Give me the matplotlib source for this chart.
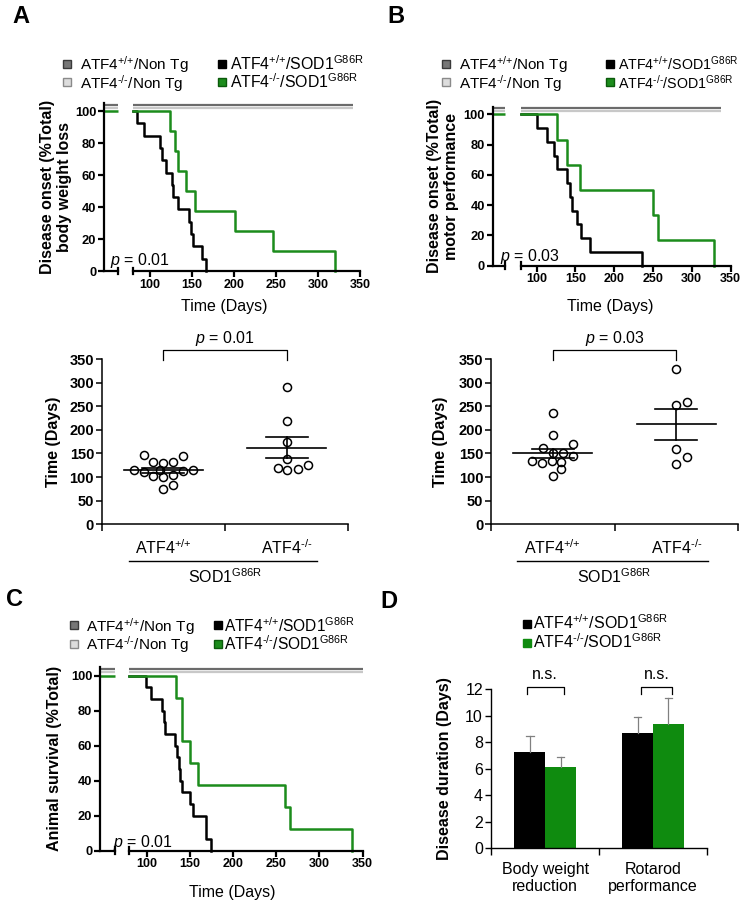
import matplotlib.pyplot as plt
from matplotlib.lines import Line2D
import numpy as np

plt.rcParams['font.family'] = ['Liberation Sans', 'DejaVu Sans']
plt.rcParams['mathtext.fontset'] = 'custom'
plt.rcParams['mathtext.rm'] = 'Liberation Sans'
plt.rcParams['mathtext.it'] = 'Liberation Sans:italic'
plt.rcParams['mathtext.bf'] = 'Liberation Sans:bold'

# ---------------- data ----------------
# Kaplan-Meier steps (day of event, % still without onset / alive)
a_wt_days = [85, 93, 112, 115, 119, 126, 128, 133, 147, 149, 151, 162, 167]
a_wt_pct = [92.3, 84.6, 76.9, 69.2, 61.5, 53.8, 46.2, 38.5, 30.8, 23.1, 15.4, 7.7, 0]
a_ko_days = [124, 130, 134, 143, 154, 201, 247, 320]
a_ko_pct = [87.5, 75, 62.5, 50, 37.5, 25, 12.5, 0]

b_wt_days = [100, 114, 123, 126, 139, 143, 146, 152, 157, 169, 236]
b_wt_pct = [90.9, 81.8, 72.7, 63.6, 54.5, 45.5, 36.4, 27.3, 18.2, 9.1, 0]
b_ko_days = [127, 139, 156, 250, 256, 329]
b_ko_pct = [83.3, 66.7, 50, 33.3, 16.7, 0]

c_wt_days = [99, 105, 118, 120, 121, 133, 135, 137, 139, 141, 150, 154, 169, 175]
c_wt_pct = [93.3, 86.7, 80, 73.3, 66.7, 60, 53.3, 46.7, 40, 33.3, 26.7, 20, 6.7, 0]
c_ko_days = [134, 141, 150, 160, 260, 266, 338]
c_ko_pct = [87.5, 62.5, 50, 37.5, 25, 12.5, 0]

ntg_last_day = [342, 338, 350]   # A, B, C

# onset per animal (days) and horizontal spread of the dots
a_wt_onset = [147, 132, 130, 131, 145, 115, 110, 103, 116, 100, 104, 113, 115, 75, 83]
a_wt_spread = [-0.16, -0.08, 0, 0.08, 0.16, -0.24, -0.16, -0.08, -0.03, 0, 0.08, 0.16, 0.24, 0, 0.08]
a_ko_onset = [290, 219, 175, 138, 119, 115, 117, 126]
a_ko_spread = [0, 0, 0, 0, -0.07, 0, 0.09, 0.17]

b_wt_onset = [236, 189, 162, 169, 150, 152, 145, 133, 130, 133, 132, 117, 102]
b_wt_spread = [0, 0, -0.08, 0.16, 0, 0.08, 0.16, -0.17, -0.09, -0.01, 0.07, 0.07, 0]
b_ko_onset = [329, 253, 258, 159, 127, 142]
b_ko_spread = [0, 0, 0.085, 0, 0, 0.085]

# D: disease duration
d_groups = ['Body weight\nreduction', 'Rotarod\nperformance']
d_wt_mean = [7.3, 8.7]
d_wt_sem = [1.15, 1.2]
d_ko_mean = [6.1, 9.4]
d_ko_sem = [0.8, 1.95]

WT = r'ATF4$^{\text{+/+}}$'
KO = r'ATF4$^{\text{-/-}}$'
SOD = r'SOD1$^{\text{G86R}}$'
lab_wt_ntg = WT + '/Non Tg'
lab_ko_ntg = KO + '/Non Tg'
lab_wt_sod = WT + '/' + SOD
lab_ko_sod = KO + '/' + SOD

GREEN = '#1c8c1c'
BAR_GREEN = '#0f8b0f'
DGREY = '#6b6b6b'
LGREY = '#c8c8c8'

W, H = 744, 907
fig = plt.figure(figsize=(W / 100, H / 100), dpi=100)


def fx(x):
    return x / W


def fy(y):
    return 1 - y / H


def rect(l, t, r, b):
    return [l / W, 1 - b / H, (r - l) / W, (b - t) / H]


def legend_entry(xm, xt, ym, yb, face, edge, label, ms=6, size=11):
    fig.add_artist(Line2D([fx(xm)], [fy(ym)], marker='s', ms=ms, mfc=face, mec=edge,
                          mew=1.0, ls='none', transform=fig.transFigure))
    fig.text(fx(xt), fy(yb), label, fontsize=size, ha='left', va='baseline')


def km_panel(x_axis, x_seg, x_main, x_end, y100, y0, wt_d, wt_p, ko_d, ko_p, ntg_end,
             ylabel, ylab_x, ptext, p_x, p_y, xlab_x, xlab_y):
    per = (y0 - y100) / 100.0
    ytop = y0 - 105 * per
    axl = fig.add_axes(rect(x_axis, ytop, x_seg, y0))
    axm = fig.add_axes(rect(x_main, ytop, x_end, y0))
    for ax in (axl, axm):
        ax.set_ylim(0, 105)
        ax.patch.set_alpha(0)
        ax.spines[['top', 'right']].set_visible(False)
        ax.spines['bottom'].set_linewidth(1.6)
        ax.spines['left'].set_linewidth(1.6)
    axl.set_xlim(0, 1)
    axm.set_xlim(80, 350)
    axm.spines['left'].set_visible(False)
    axm.set_yticks([])
    axl.set_xticks([])
    axl.set_yticks([0, 20, 40, 60, 80, 100], labels=['0', '20', '40', '60', '80', '100'],
                   fontweight='bold', fontsize=9.3)
    axl.tick_params(axis='y', length=4, width=1.6, pad=1.5)
    xt = [100, 150, 200, 250, 300, 350]
    axm.set_xticks(xt, labels=[str(v) for v in xt], fontweight='bold', fontsize=9)
    axm.tick_params(axis='x', length=4, width=1.6, pad=1.5)

    for ax, x0, x1 in ((axl, 0, 1), (axm, 80, ntg_end)):
        ax.plot([x0, x1], [104, 104], color=DGREY, lw=1.6, clip_on=False, solid_capstyle='butt')
        ax.plot([x0, x1], [102, 102], color=LGREY, lw=1.6, clip_on=False, solid_capstyle='butt')
    axl.plot([0, 1], [100, 100], color=GREEN, lw=1.8, clip_on=False, solid_capstyle='butt')
    axm.plot([80] + wt_d, [100] + wt_p, drawstyle='steps-post', color='k', lw=1.8, clip_on=False)
    axm.plot([80] + ko_d, [100] + ko_p, drawstyle='steps-post', color=GREEN, lw=1.8, clip_on=False)

    for xb in (x_seg, x_main):
        fig.add_artist(Line2D([fx(xb)] * 2, [fy(y0 - 3.5), fy(y0 + 3.5)], color='k', lw=1.6))

    fig.text(fx(ylab_x), fy((ytop + y0) / 2), ylabel, rotation=90, ha='center', va='center',
             fontsize=11.5, fontweight='bold', linespacing=1.1, multialignment='center')
    fig.text(fx(p_x), fy(p_y), ptext, fontsize=11.5, ha='left', va='baseline')
    fig.text(fx(xlab_x), fy(xlab_y), 'Time (Days)', fontsize=11.5, ha='center', va='center')


def dot_panel(x_l, x_r, y0, ytop, wt_v, wt_s, ko_v, ko_s, ptext, ylab_x, line_x):
    ax = fig.add_axes(rect(x_l, ytop, x_r, y0))
    ax.set_xlim(0, 2)
    ax.set_ylim(0, 350)
    ax.patch.set_alpha(0)
    ax.spines[['top', 'right']].set_visible(False)
    ax.spines[['left', 'bottom']].set_linewidth(1.1)
    yt = list(range(0, 351, 50))
    ax.set_yticks(yt, labels=[str(v) for v in yt], fontweight='bold', fontsize=10.5)
    ax.tick_params(axis='y', length=4, width=1.1, pad=1.5)
    ax.set_xticks([0, 1, 2], labels=['', '', ''])
    ax.tick_params(axis='x', length=5, width=1.1)

    for k, (vals, spread) in enumerate(((wt_v, wt_s), (ko_v, ko_s))):
        xc = 0.5 + k
        ax.plot(xc + np.array(spread), vals, 'o', mfc='none', mec='k', ms=5.8, mew=1.1,
                zorder=3, clip_on=False)
        m = np.mean(vals)
        s = np.std(vals, ddof=1) / np.sqrt(len(vals))
        ax.plot([xc - 0.32, xc + 0.32], [m, m], color='k', lw=1.2, zorder=4)
        ax.plot([xc - 0.17, xc + 0.17], [m + s, m + s], color='k', lw=1.2, zorder=4)
        ax.plot([xc - 0.17, xc + 0.17], [m - s, m - s], color='k', lw=1.2, zorder=4)
        ax.plot([xc, xc], [m - s, m + s], color='k', lw=1.2, zorder=4)

    ax.plot([0.5, 0.5, 1.5, 1.5], [348, 368, 368, 348], color='k', lw=0.9, clip_on=False)
    ax.text(1.0, 373, ptext, ha='center', va='bottom', fontsize=11.5)

    ax.text(0.5, -62, WT, ha='center', va='baseline', fontsize=11.5)
    ax.text(1.5, -62, KO, ha='center', va='baseline', fontsize=11.5)
    ax.plot(line_x, [-77, -77], color='k', lw=1.0, clip_on=False)
    ax.text(1.0, -125, SOD, ha='center', va='baseline', fontsize=11.5)
    fig.text(fx(ylab_x), fy((ytop + y0) / 2), 'Time (Days)', rotation=90, ha='center',
             va='center', fontsize=11.5, fontweight='bold')


# ---------------- panel letters ----------------
for letter, x, y in (('A', 12, 5), ('B', 387, 5), ('C', 6, 588), ('D', 380, 590)):
    fig.text(fx(x), fy(y), letter, fontsize=17, fontweight='bold', ha='left', va='top')

# ---------------- legends ----------------
for (c1m, c1t, c2m, c2t, r1, r2, s2) in ((67, 80, 222, 230, 63.5, 82, 11.4),
                                          (446, 459, 610, 618, 63.5, 82, 10.3),
                                          (74, 86, 218, 224, 625, 643.5, 11.2)):
    legend_entry(c1m, c1t, r1, r1 + 6.5, '#777777', '#3a3a3a', lab_wt_ntg)
    legend_entry(c1m, c1t, r2, r2 + 6.5, '#dddddd', '#8a8a8a', lab_ko_ntg)
    legend_entry(c2m, c2t, r1, r1 + 6.5, 'black', 'black', lab_wt_sod, size=s2)
    legend_entry(c2m, c2t, r2, r2 + 6.5, GREEN, '#0b5a0b', lab_ko_sod, size=s2)

# ---------------- A, B, C survival-type curves ----------------
km_panel(104, 118, 133, 360, 111, 271, a_wt_days, a_wt_pct, a_ko_days, a_ko_pct, ntg_last_day[0],
         'Disease onset (%Total)\nbody weight loss', 56, r'$p$ = 0.01', 110, 265.5, 224, 307)
km_panel(492.7, 505.3, 521, 730.5, 114.3, 265.7, b_wt_days, b_wt_pct, b_ko_days, b_ko_pct,
         ntg_last_day[1], 'Disease onset (%Total)\nmotor performance', 443, r'$p$ = 0.03',
         500, 261.5, 610, 307)
km_panel(100, 115, 129.3, 362.7, 675.7, 850.7, c_wt_days, c_wt_pct, c_ko_days, c_ko_pct,
         ntg_last_day[2], 'Animal survival (%Total)', 54, r'$p$ = 0.01', 113, 846.5, 232, 893)

# ---------------- A, B dot plots ----------------
dot_panel(101.7, 348.3, 524.3, 359, a_wt_onset, a_wt_spread, a_ko_onset, a_ko_spread,
          r'$p$ = 0.01', 53, [0.22, 1.75])
dot_panel(491, 738, 524.3, 359, b_wt_onset, b_wt_spread, b_ko_onset, b_ko_spread,
          r'$p$ = 0.03', 440, [0.21, 1.76])

# ---------------- D bar chart ----------------
axd = fig.add_axes(rect(491.3, 689.3, 707, 848.3))
axd.set_xlim(0, 2)
axd.set_ylim(0, 12)
axd.spines[['top', 'right']].set_visible(False)
axd.spines[['left', 'bottom']].set_linewidth(1.0)
xg = np.array([0.5, 1.5])
bw = 0.285
axd.bar(xg - bw / 2, d_wt_mean, width=bw, color='black', zorder=2)
axd.bar(xg + bw / 2, d_ko_mean, width=bw, color=BAR_GREEN, zorder=2)
for xs, means, sems in ((xg - bw / 2, d_wt_mean, d_wt_sem), (xg + bw / 2, d_ko_mean, d_ko_sem)):
    for x, m, s in zip(xs, means, sems):
        axd.plot([x, x], [m, m + s], color='#808080', lw=0.9, zorder=3)
        axd.plot([x - 0.035, x + 0.035], [m + s, m + s], color='#808080', lw=0.9, zorder=3)
yt = list(range(0, 13, 2))
axd.set_yticks(yt, labels=[str(v) for v in yt], fontsize=11.5)
axd.tick_params(axis='y', length=4, width=1.0, pad=2)
axd.set_xticks([0, 1, 2], labels=['', '', ''])
axd.tick_params(axis='x', which='major', length=5, width=1.0)
axd.set_xticks(xg, labels=d_groups, minor=True, fontsize=11.5, linespacing=1.15)
axd.tick_params(axis='x', which='minor', length=0, pad=10)
for x0, x1 in ((0.33, 0.67), (1.39, 1.68)):
    axd.plot([x0, x0, x1, x1], [11.65, 12.15, 12.15, 11.65], color='k', lw=0.9, clip_on=False)
    axd.text((x0 + x1) / 2, 13.1, 'n.s.', ha='center', va='center', fontsize=11.5)
fig.text(fx(445), fy(769), 'Disease duration (Days)', rotation=90, ha='center', va='center',
         fontsize=11.5, fontweight='bold')
legend_entry(527, 533, 624, 629, 'black', 'black', lab_wt_sod, ms=5.5, size=11.5)
legend_entry(527, 533, 643, 648, BAR_GREEN, BAR_GREEN, lab_ko_sod, ms=5.5, size=11.5)

fig.savefig('out.png', dpi=100)
